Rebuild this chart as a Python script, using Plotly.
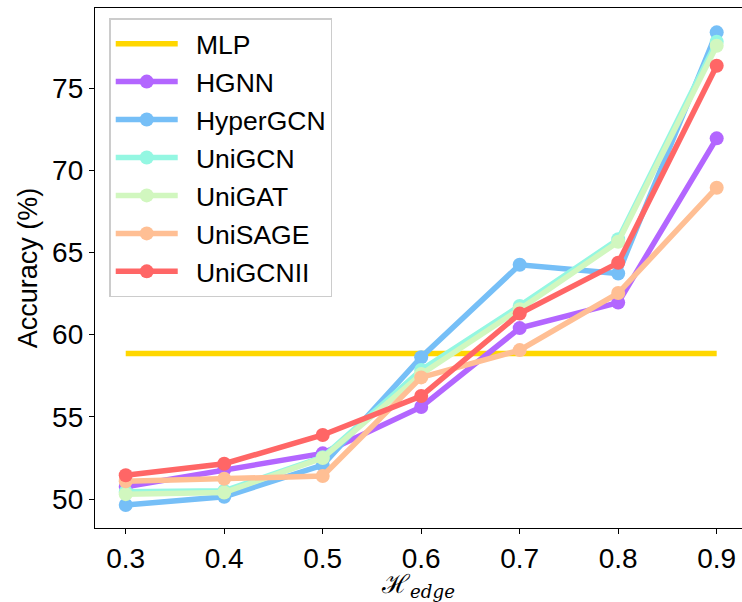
import plotly.graph_objects as go

x_vals = [0.3, 0.4, 0.5, 0.6, 0.7, 0.8, 0.9]
x_ticklabels = ["0.3", "0.4", "0.5", "0.6", "0.7", "0.8", "0.9"]
y_ticks = [50, 55, 60, 65, 70, 75]

mlp = [58.86, 58.86, 58.86, 58.86, 58.86, 58.86, 58.86]
hgnn = [50.75, 51.78, 52.78, 55.60, 60.40, 61.95, 71.94]
hypergcn = [49.64, 50.14, 52.07, 58.63, 64.25, 63.72, 78.39]
unigcn = [50.45, 50.50, 52.55, 57.85, 61.75, 65.80, 77.82]
unigat = [50.30, 50.40, 52.50, 57.60, 61.55, 65.65, 77.57]
unisage = [51.08, 51.24, 51.40, 57.40, 59.06, 62.53, 68.94]
unigcnii = [51.45, 52.15, 53.90, 56.27, 61.28, 64.37, 76.36]

series = [
    ("HGNN", hgnn, "#B366FF"),
    ("HyperGCN", hypergcn, "#76BFF7"),
    ("UniGCN", unigcn, "#94F7E2"),
    ("UniGAT", unigat, "#D1F7BF"),
    ("UniSAGE", unisage, "#FFBF94"),
    ("UniGCNII", unigcnii, "#FF6666"),
]

FONT = "Liberation Sans, Arial, sans-serif"
PAD = "\u2002"

fig = go.Figure()
fig.add_trace(go.Scatter(x=x_vals, y=mlp, mode="lines", name=PAD + "MLP", legendgroup="MLP",
                         line=dict(color="#FFD700", width=5.5)))
for name, vals, col in series:
    fig.add_trace(go.Scatter(x=x_vals, y=vals, mode="lines+markers", name=PAD + name,
                             legendgroup=name,
                             line=dict(color=col, width=5.5),
                             marker=dict(color=col, size=14)))

fig.update_layout(
    width=742, height=602,
    margin=dict(l=95, r=0, t=8, b=74),
    plot_bgcolor="white", paper_bgcolor="white",
    font=dict(family=FONT, color="black", size=27),
    legend=dict(x=0.022, y=0.98, xanchor="left", yanchor="top",
                bgcolor="white", bordercolor="#CCCCCC", borderwidth=1.5,
                font=dict(size=26.5, family=FONT), itemwidth=62,
                tracegroupgap=0.5),
    showlegend=True,
)
fig.update_xaxes(range=[0.2688, 0.9257], tickvals=x_vals, ticktext=x_ticklabels,
                 automargin=False,
                 showline=True, linecolor="black", linewidth=1.3, mirror=True,
                 ticks="outside", ticklen=5, tickwidth=1.2, tickcolor="black",
                 showgrid=False, zeroline=False,
                 tickfont=dict(size=28, family=FONT),
                 title=dict(text="ℋ<sub><i>edge</i></sub>", standoff=2,
                            font=dict(size=26, family="DejaVu Serif, serif")))
fig.update_yaxes(range=[48.24, 79.87], tickvals=y_ticks,
                 automargin=False,
                 showline=True, linecolor="black", linewidth=1.3,
                 ticks="outside", ticklen=5, tickwidth=1.2, tickcolor="black",
                 showgrid=False, zeroline=False,
                 tickfont=dict(size=28, family=FONT),
                 title=dict(text="Accuracy (%)", standoff=6,
                            font=dict(size=27, family=FONT)))

fig.write_html("out.html", config={"displayModeBar": False},
               post_script="document.body.style.margin='0';document.body.style.padding='0';")
